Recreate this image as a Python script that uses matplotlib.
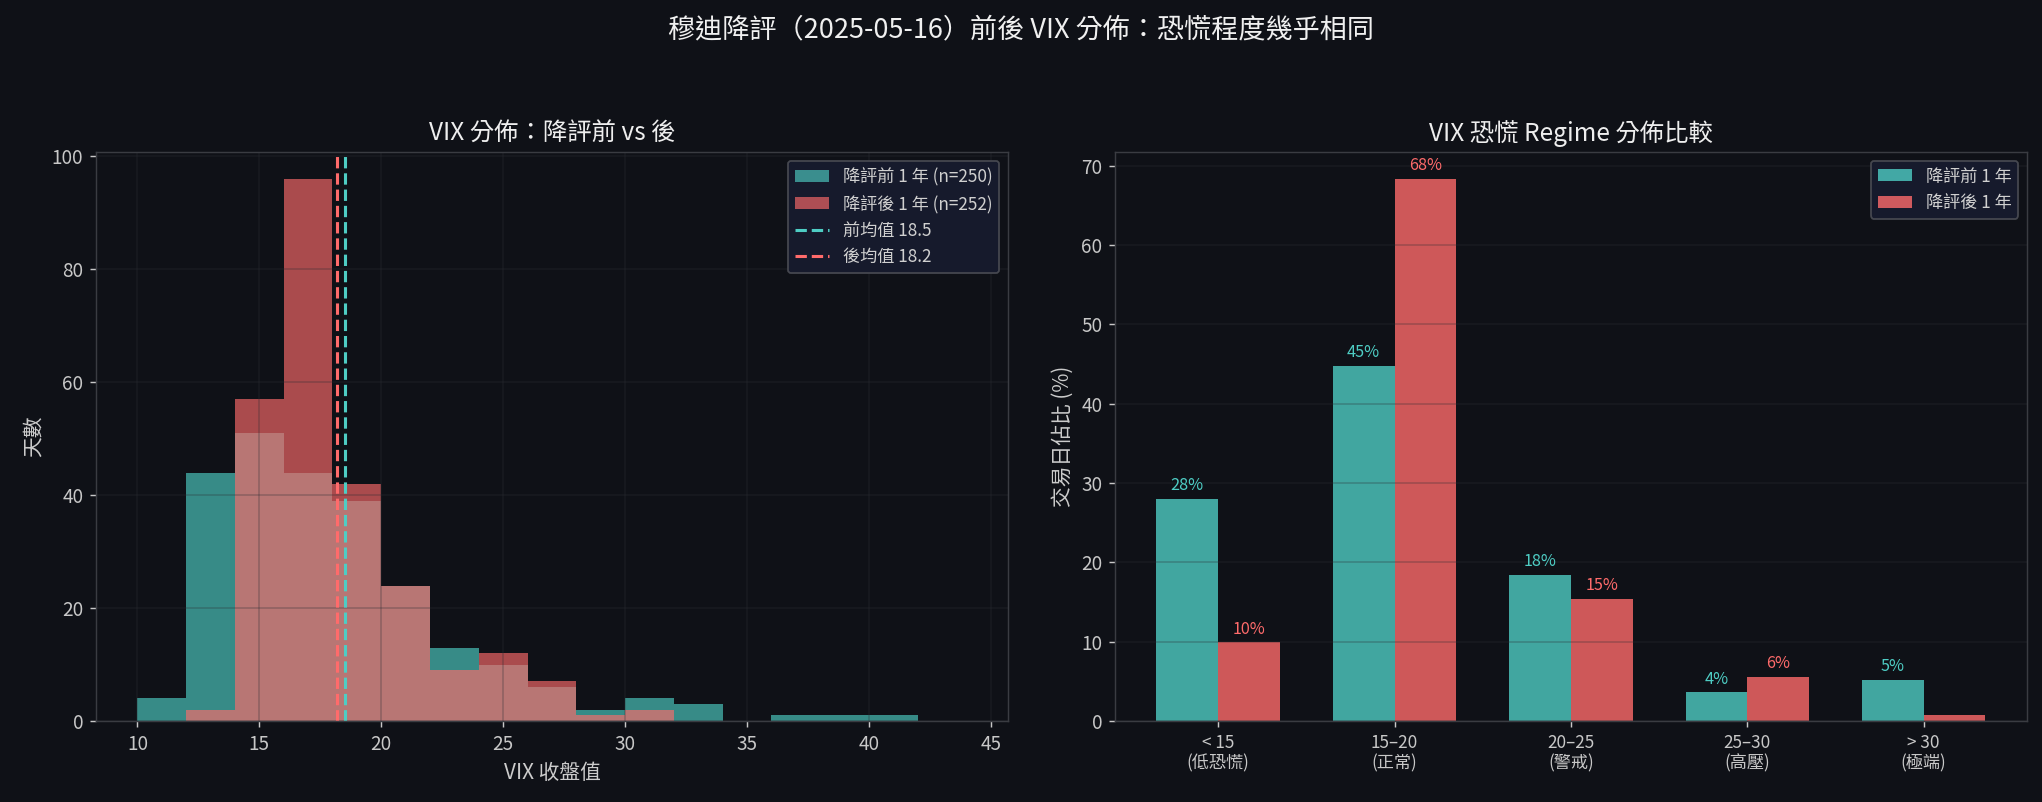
import numpy as np
import matplotlib
matplotlib.use('Agg')
import matplotlib.pyplot as plt

plt.rcParams['font.family'] = ['Noto Sans CJK TC', 'DejaVu Sans']

BG = '#0f1117'
TEAL = '#4ECDC4'
RED = '#FF6B6B'

# histogram of VIX closes (bin width 2), counts
bin_edges = [10, 12, 14, 16, 18, 20, 22, 24, 26, 28, 30, 32, 34, 36, 38, 40, 42, 44]
before_counts = [4, 44, 51, 44, 39, 24, 13, 10, 6, 2, 4, 3, 0, 1, 1, 1, 0]
after_counts = [0, 2, 57, 96, 42, 24, 9, 12, 7, 1, 2, 0, 0, 0, 0, 0, 0]
before_mean = 18.5
after_mean = 18.2
n_before = 250
n_after = 252

# regime share (% of trading days)
regimes = ['< 15\n(低恐慌)', '15–20\n(正常)', '20–25\n(警戒)', '25–30\n(高壓)', '> 30\n(極端)']
before_pct = [28.0, 44.8, 18.4, 3.6, 5.2]
after_pct = [9.9, 68.3, 15.4, 5.6, 0.8]

fig = plt.figure(figsize=(2042 / 130, 802 / 130), dpi=130, facecolor=BG)
ax1 = fig.add_axes([0.047, 0.101, 0.4466, 0.7095])
ax2 = fig.add_axes([0.546, 0.101, 0.4466, 0.7095])

for ax in (ax1, ax2):
    ax.set_facecolor(BG)
    for s in ax.spines.values():
        s.set_color('#3a3c42')
    ax.tick_params(colors='#c8c8c8', labelsize=10.5)

# ---- left: histogram
centers = [(bin_edges[i] + bin_edges[i + 1]) / 2 for i in range(len(before_counts))]
ax1.hist(centers, bins=bin_edges, weights=before_counts, color=TEAL, alpha=0.65,
         label=f'降評前 1 年 (n={n_before})')
ax1.hist(centers, bins=bin_edges, weights=after_counts, color=RED, alpha=0.65,
         label=f'降評後 1 年 (n={n_after})')
ax1.axvline(before_mean, color=TEAL, ls='--', lw=1.7, label=f'前均值 {before_mean}')
ax1.axvline(after_mean, color=RED, ls='--', lw=1.7, label=f'後均值 {after_mean}')
ax1.grid(True, color='#2c2e34', alpha=0.3, lw=0.9)
ax1.set_title('VIX 分佈：降評前 vs 後', color='#eeeeee', fontsize=13.5)
ax1.set_xlabel('VIX 收盤值', color='#cccccc', fontsize=11.5)
ax1.set_ylabel('天數', color='#cccccc', fontsize=11.5)
leg = ax1.legend(loc='upper right', fontsize=9.5, facecolor='#161a2c', edgecolor='#45474f',
                 labelcolor='#d0d0d0', framealpha=1)

# ---- right: regime bars
x = np.arange(len(regimes))
w = 0.35
b1 = ax2.bar(x - w / 2, before_pct, w, color=TEAL, alpha=0.8, label='降評前 1 年')
b2 = ax2.bar(x + w / 2, after_pct, w, color=RED, alpha=0.8, label='降評後 1 年')
for bars, vals, c in ((b1, before_pct, TEAL), (b2, after_pct, RED)):
    for r, v in zip(bars, vals):
        if v >= 1:
            ax2.text(r.get_x() + r.get_width() / 2, v + 0.6, f'{v:.0f}%', ha='center',
                     va='bottom', color=c, fontsize=9)
ax2.set_xticks(x)
ax2.set_xticklabels(regimes, fontsize=9.5)
ax2.grid(True, axis='y', color='#2c2e34', alpha=0.3, lw=0.9)
ax2.set_title('VIX 恐慌 Regime 分佈比較', color='#eeeeee', fontsize=13.5)
ax2.set_ylabel('交易日佔比 (%)', color='#cccccc', fontsize=11.5)
ax2.legend(loc='upper right', fontsize=9.5, facecolor='#161a2c', edgecolor='#45474f',
           labelcolor='#d0d0d0', framealpha=1)

fig.suptitle('穆迪降評（2025-05-16）前後 VIX 分佈：恐慌程度幾乎相同', color='#f0f0f0',
             fontsize=15, y=0.98)

fig.savefig('out.png', dpi=130, facecolor=BG)
